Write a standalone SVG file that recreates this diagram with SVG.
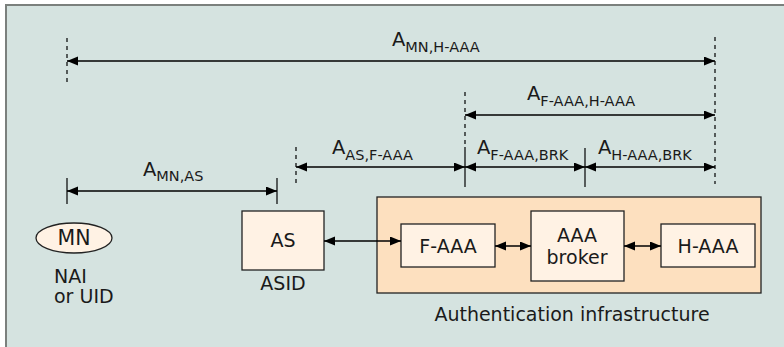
<svg xmlns="http://www.w3.org/2000/svg" width="784" height="347" viewBox="0 0 784 347">
<defs>
<marker id="ah" markerUnits="userSpaceOnUse" markerWidth="12" markerHeight="10" refX="11" refY="4.5" orient="auto-start-reverse">
<path d="M0,0 L11,4.5 L0,9 z" fill="#000"/>
</marker>
<style>
text{font-family:"DejaVu Sans","Open Sans",sans-serif;fill:#1a1a1a;}
.lbl{font-size:19.5px;}
.sub{font-size:14.5px;}
.nt{font-size:19px;text-anchor:middle;}
.dim{stroke:#000;stroke-width:1.3;fill:none;marker-start:url(#ah);marker-end:url(#ah);}
.dash{stroke:#000;stroke-width:1.2;stroke-dasharray:4,4;fill:none;}
.sol{stroke:#000;stroke-width:1.2;fill:none;}
.box{fill:#fff2e4;stroke:#222;stroke-width:1.3;}
</style>
</defs>
<rect x="0" y="0" width="784" height="347" fill="#fff"/>
<rect x="6" y="5" width="790" height="352" fill="#d5e3e0" stroke="#7b807d" stroke-width="2"/>

<g id="ext-lines">
<line class="dash" x1="67" y1="38" x2="67" y2="86"/>
<line class="dash" x1="715" y1="37" x2="715" y2="184"/>
<line class="dash" x1="465" y1="92" x2="465" y2="146"/>
<line class="sol" x1="465" y1="147" x2="465" y2="187"/>
<line class="sol" x1="585" y1="148" x2="585" y2="187"/>
<line class="dash" x1="296" y1="147" x2="296" y2="184"/>
<line class="sol" x1="67" y1="178" x2="67" y2="204"/>
<line class="sol" x1="277" y1="178" x2="277" y2="204"/>
</g>

<g id="labels">
<text class="lbl" x="392" y="46">A<tspan class="sub" dy="6">MN,H-AAA</tspan></text>
<text class="lbl" x="527" y="100">A<tspan class="sub" dy="6">F-AAA,H-AAA</tspan></text>
<text class="lbl" x="332" y="154">A<tspan class="sub" dy="6">AS,F-AAA</tspan></text>
<text class="lbl" x="477" y="154">A<tspan class="sub" dy="6">F-AAA,BRK</tspan></text>
<text class="lbl" x="598" y="154">A<tspan class="sub" dy="6">H-AAA,BRK</tspan></text>
<text class="lbl" x="143" y="176">A<tspan class="sub" dy="5">MN,AS</tspan></text>
</g>

<g id="auth-infra">
<rect x="377" y="197" width="384" height="96" fill="#fde0bf" stroke="#222" stroke-width="1.3"/>
<text class="nt" x="572" y="321">Authentication infrastructure</text>
</g>

<g id="mn">
<ellipse cx="74" cy="238" rx="38" ry="15" class="box"/>
<text class="nt" x="74" y="245" style="font-size:20.5px">MN</text>
<text style="font-size:19px" x="54" y="283">NAI</text>
<text style="font-size:19px" x="54" y="303">or UID</text>
</g>

<g id="as">
<rect x="242" y="211" width="82" height="59" class="box"/>
<text class="nt" x="283" y="247">AS</text>
<text class="nt" x="283" y="290">ASID</text>
</g>

<g id="f-aaa">
<rect x="401" y="224" width="94" height="43" class="box"/>
<text class="nt" x="448" y="253">F-AAA</text>
</g>

<g id="broker">
<rect x="531" y="211" width="93" height="70" class="box"/>
<text class="nt" x="577" y="242">AAA</text>
<text class="nt" x="577" y="264">broker</text>
</g>

<g id="h-aaa">
<rect x="661" y="224" width="94" height="43" class="box"/>
<text class="nt" x="708" y="253">H-AAA</text>
</g>

<g id="connectors">
<line class="dim" x1="67" y1="61" x2="715" y2="61"/>
<line class="dim" x1="465" y1="115" x2="715" y2="115"/>
<line class="dim" x1="296" y1="167" x2="465" y2="167"/>
<line class="dim" x1="465" y1="167" x2="585" y2="167"/>
<line class="dim" x1="585" y1="167" x2="715" y2="167"/>
<line class="dim" x1="67" y1="191" x2="277" y2="191"/>
<line class="dim" x1="324" y1="241" x2="401" y2="241"/>
<line class="dim" x1="495" y1="246" x2="531" y2="246"/>
<line class="dim" x1="624" y1="246" x2="661" y2="246"/>
</g>
</svg>
